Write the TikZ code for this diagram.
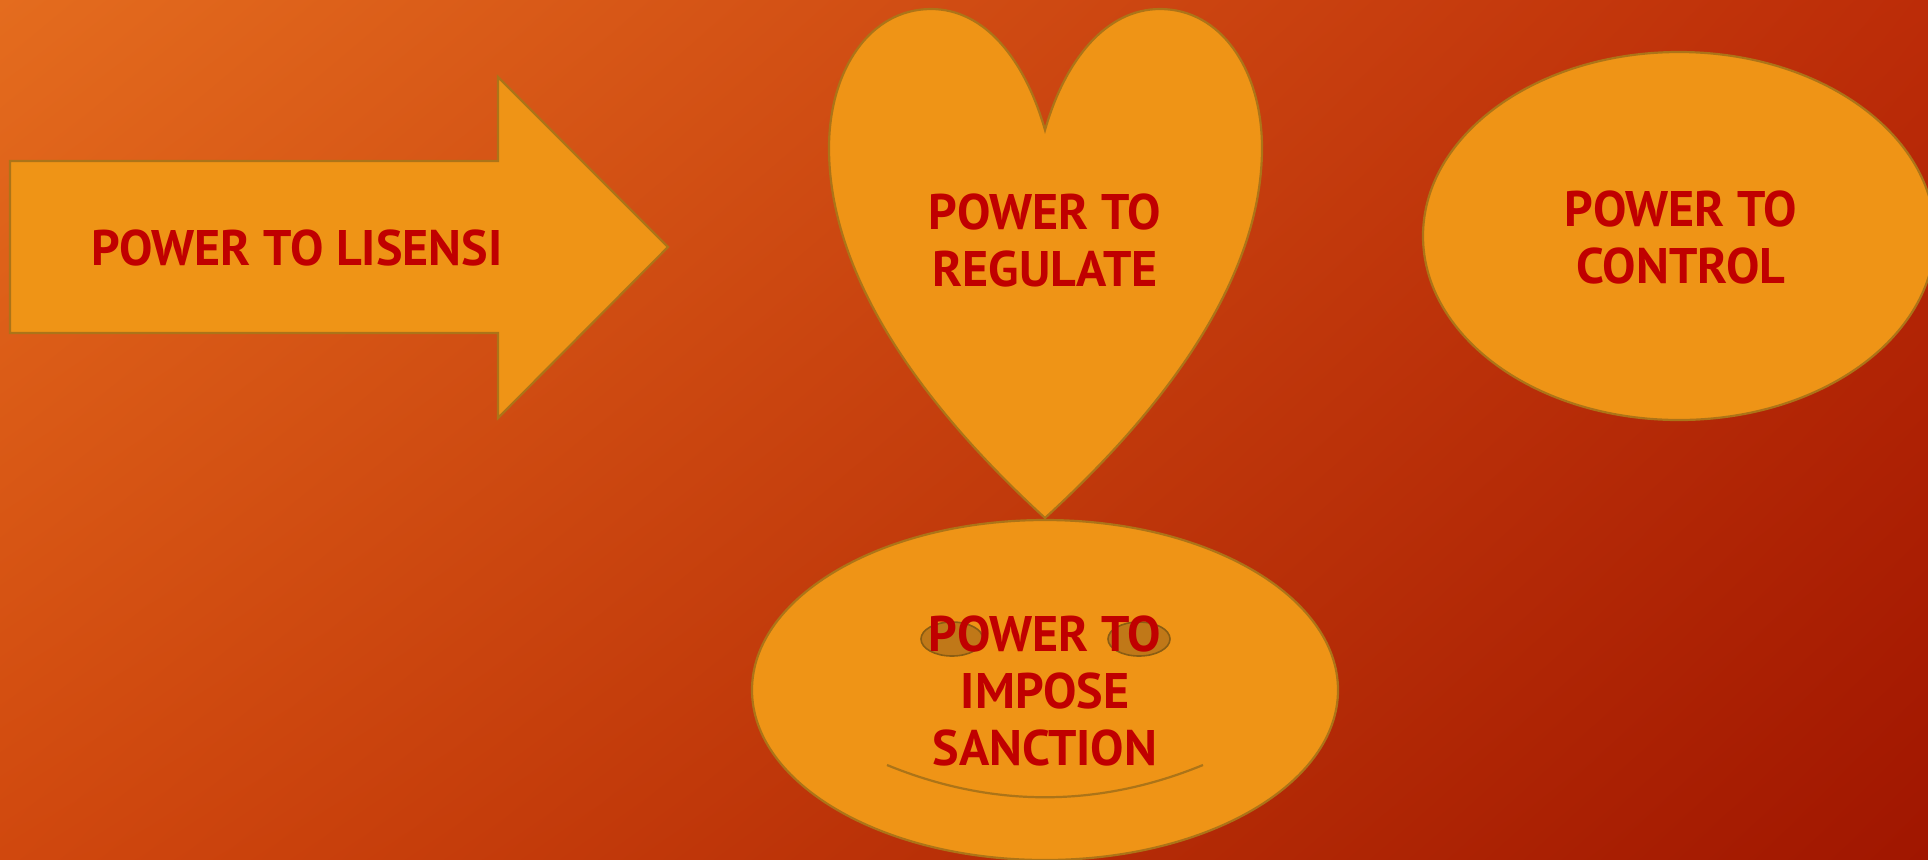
\documentclass[tikz,border=0pt]{standalone}
\usepackage{fontspec}
\usetikzlibrary{shadings}
\setmainfont{PT Sans}
\definecolor{shapefill}{HTML}{EF9416}
\definecolor{shapeline}{HTML}{AC7418}
\definecolor{txtred}{HTML}{C00000}
\definecolor{bgUL}{HTML}{E46C1E}
\definecolor{bgUR}{HTML}{BC2C08}
\definecolor{bgLL}{HTML}{D0480E}
\definecolor{bgLR}{HTML}{A01600}
\definecolor{eyecol}{HTML}{C07818}
\tikzset{
  shapebox/.style={fill=shapefill, draw=shapeline, line width=1.1pt, line join=miter},
  lbl/.style={text=txtred, font=\fontsize{25}{28.5}\selectfont\bfseries, align=center, inner sep=0pt},
  eyeshape/.style={fill=eyecol, draw=shapeline!80!black, line width=0.8pt},
  smileline/.style={draw=shapeline, line width=1.1pt}
}
\begin{document}
\begin{tikzpicture}[x=0.5pt,y=-0.5pt]
\useasboundingbox (0,0) rectangle (1928,859);
\shade[upper left=bgUL, upper right=bgUR, lower left=bgLL, lower right=bgLR] (0,0) rectangle (1928,859);
% arrow
\draw[shapebox] (10,161) -- (498,161) -- (498,77) -- (668,247) -- (498,418) -- (498,333) -- (10,333) -- cycle;
\node[lbl] (lisensi) at (297,248) {POWER TO LISENSI};
% heart
\draw[shapebox] (1045,518) .. controls (960,440) and (829,300) .. (829,148)
  .. controls (829,70) and (870,9) .. (931,9)
  .. controls (985,9) and (1025,60) .. (1045,130)
  .. controls (1065,60) and (1106,9) .. (1160,9)
  .. controls (1221,9) and (1262,70) .. (1262,148)
  .. controls (1262,300) and (1130,440) .. (1045,518) -- cycle;
\node[lbl] (regulate) at (1045,240) {POWER TO\\REGULATE};
% control ellipse
\draw[shapebox] (1679,236) ellipse [x radius=256, y radius=184];
\node[lbl] (control) at (1681,237) {POWER TO\\CONTROL};
% sanction face
\draw[shapebox] (1045,690) ellipse [x radius=293, y radius=170];
\draw[eyeshape] (952,639) ellipse [x radius=31, y radius=17];
\draw[eyeshape] (1139,639) ellipse [x radius=31, y radius=17];
\coordinate (smL) at (887,765);
\coordinate (smR) at (1203,765);
\draw[smileline] (smL) .. controls (992,808) and (1098,808) .. (smR);
\node[lbl] (sanction) at (1045,691) {POWER TO\\IMPOSE\\SANCTION};
\end{tikzpicture}
\end{document}
